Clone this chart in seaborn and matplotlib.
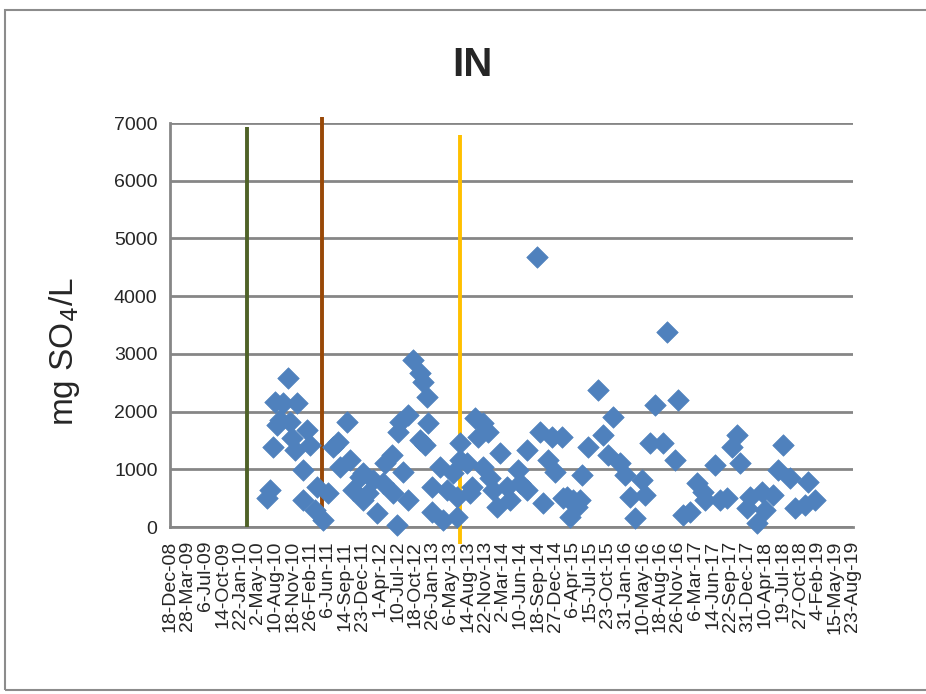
import matplotlib
matplotlib.use("Agg")
import matplotlib.pyplot as plt
from matplotlib.patches import Rectangle
import seaborn as sns
import pandas as pd

# ---- data ----
sample_dates = [
    "2010-06-25", "2010-07-12", "2010-07-29", "2010-08-09", "2010-08-21", "2010-09-07",
    "2010-09-24", "2010-10-23", "2010-11-03", "2010-11-14", "2010-12-02", "2010-12-13",
    "2011-01-16", "2011-01-18", "2011-02-08", "2011-02-25", "2011-03-26", "2011-04-06",
    "2011-05-11", "2011-06-08", "2011-07-07", "2011-08-04", "2011-08-16", "2011-09-25",
    "2011-10-12", "2011-10-29", "2011-12-08", "2011-12-25", "2011-12-27", "2012-01-22",
    "2012-02-19", "2012-03-14", "2012-04-17", "2012-04-29", "2012-06-07", "2012-06-12",
    "2012-07-05", "2012-07-11", "2012-07-22", "2012-08-09", "2012-09-06", "2012-09-08",
    "2012-10-05", "2012-11-14", "2012-11-15", "2012-12-01", "2012-12-12", "2012-12-24",
    "2012-12-29", "2013-01-21", "2013-01-23", "2013-03-08", "2013-03-25", "2013-04-17",
    "2013-05-21", "2013-06-13", "2013-06-15", "2013-06-30", "2013-07-02", "2013-08-09",
    "2013-08-26", "2013-09-07", "2013-09-24", "2013-10-11", "2013-11-08", "2013-11-10",
    "2013-12-07", "2013-12-18", "2014-01-05", "2014-01-27", "2014-02-14", "2014-03-26",
    "2014-04-12", "2014-05-27", "2014-06-08", "2014-07-18", "2014-07-20", "2014-09-13",
    "2014-09-30", "2014-10-17", "2014-11-15", "2014-12-07", "2014-12-25", "2015-02-03",
    "2015-02-08", "2015-03-03", "2015-03-20", "2015-04-07", "2015-04-29", "2015-05-16",
    "2015-05-28", "2015-07-01", "2015-08-27", "2015-09-25", "2015-10-23", "2015-11-21",
    "2016-01-01", "2016-01-29", "2016-02-26", "2016-03-26", "2016-05-05", "2016-05-22",
    "2016-06-19", "2016-07-18", "2016-09-02", "2016-09-24", "2016-11-09", "2016-11-26",
    "2016-12-25", "2017-02-03", "2017-03-15", "2017-04-18", "2017-04-29", "2017-06-25",
    "2017-07-24", "2017-09-02", "2017-10-01", "2017-10-29", "2017-11-15", "2017-12-25",
    "2018-01-11", "2018-02-20", "2018-03-21", "2018-04-07", "2018-05-23", "2018-06-20",
    "2018-07-19", "2018-08-28", "2018-09-25", "2018-11-21", "2018-12-09", "2019-01-18",
]
sulfate_mg_l = [
    500, 640, 1390, 2170, 1770, 1850,
    2150, 2580, 1820, 1540, 1330, 2150,
    990, 470, 1680, 1420, 290, 690,
    120, 590, 1390, 1470, 1040, 1820,
    1160, 640, 870, 470, 940, 590,
    810, 240, 760, 1110, 1250, 590,
    35, 1650, 1820, 950, 1940, 470,
    2890, 2670, 1510, 2510, 1420, 2250,
    1800, 690, 260, 1040, 120, 640,
    940, 520, 170, 1460, 1160, 1110,
    590, 690, 1890, 1560, 1800, 1040,
    1650, 850, 640, 350, 1280, 690,
    470, 990, 760, 1330, 640, 4680,
    1650, 415, 1160, 1560, 950, 1560,
    500, 520, 170, 470, 350, 470,
    900, 1390, 2370, 1590, 1250, 1910,
    1110, 900, 520, 150, 810, 550,
    1460, 2110, 1460, 3380, 1160, 2200,
    210, 260, 760, 610, 470, 1070,
    470, 500, 1390, 1590, 1110, 330,
    520, 70, 610, 290, 550, 990,
    1420, 850, 330, 380, 780, 470,
]

# vertical marker lines (date, bottom value, top value)
event_dates = ["2010-03-02", "2011-05-04", "2013-07-01"]
event_bottoms = [0, 160, -300]
event_tops = [6930, 7110, 6790]
event_colors = ["#4F6228", "#984807", "#FFC000"]

tick_start = "2008-12-18"
tick_count = 40
tick_step_days = 100
y_ticks = [0, 1000, 2000, 3000, 4000, 5000, 6000, 7000]

# ---- build frame ----
df = pd.DataFrame({"date": pd.to_datetime(sample_dates), "so4": sulfate_mg_l})
xticks = pd.date_range(tick_start, periods=tick_count, freq=f"{tick_step_days}D")

sns.set_style("white")
plt.rcParams["font.family"] = ["Liberation Sans", "DejaVu Sans"]

W, H = 926, 694
fig = plt.figure(figsize=(W / 100, H / 100), dpi=100)
fig.patches.append(Rectangle((5 / W, 4 / H), 930 / W, (684 - 4) / H, transform=fig.transFigure,
                             fill=False, edgecolor="#8c8c8c", lw=1.5))

ax = fig.add_axes([170 / W, 167 / H, (853 - 170) / W, (527 - 123) / H])

for d, b, t, c in zip(event_dates, event_bottoms, event_tops, event_colors):
    dd = pd.to_datetime([d, d])
    ax.plot(dd, [b, t], color=c, lw=2.8, clip_on=False, zorder=3, solid_capstyle="butt")

sns.scatterplot(data=df, x="date", y="so4", ax=ax, marker="D", s=120,
                color="#4F81BD", edgecolor="#4F81BD", linewidth=0.5, zorder=4,
                clip_on=False)

ax.set_xlim(xticks[0], xticks[-1])
ax.set_ylim(0, 7000)
ax.set_yticks(y_ticks)
ax.set_yticklabels([str(v) for v in y_ticks], fontsize=14)
ax.set_xticks(xticks)
ax.set_xticklabels([f"{d.day}-{d.strftime('%b')}-{d.strftime('%y')}" for d in xticks],
                   rotation=90, fontsize=14, va="top", ha="center")
ax.grid(axis="y", color="#868686", lw=2)
ax.grid(axis="x", visible=False)
ax.set_axisbelow(True)
for s in ["top", "right"]:
    ax.spines[s].set_visible(False)
for s in ["left", "bottom"]:
    ax.spines[s].set_color("#868686")
    ax.spines[s].set_linewidth(2)
ax.tick_params(axis="x", direction="out", length=7, width=1.8, color="#868686", pad=3)
ax.tick_params(axis="y", direction="out", length=5, width=1.8, color="#868686", pad=4)
ax.set_xlabel("")
ax.set_ylabel("mg SO$_4$/L", fontsize=24)
ax.yaxis.set_label_coords((82 - 170) / 683, (527 - 352) / 404)

fig.text(472 / W, 1 - 65 / H, "IN", fontsize=29, fontweight="bold", ha="center", va="center",
         family=["Liberation Sans Narrow", "Liberation Sans", "DejaVu Sans"])

fig.savefig("out.png", dpi=100)
